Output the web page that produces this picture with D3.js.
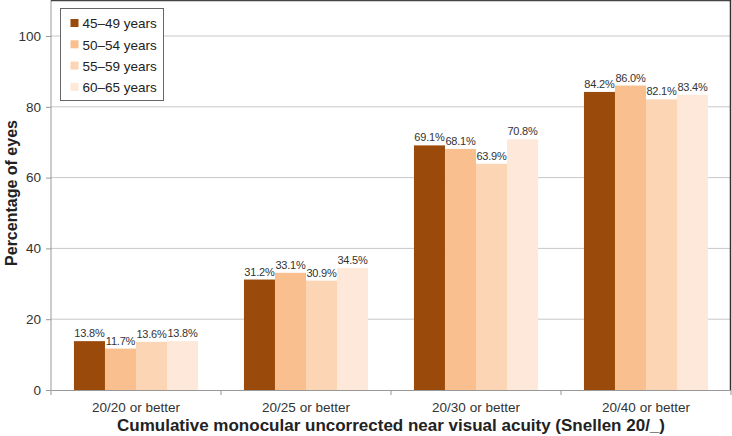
<!DOCTYPE html>
<html><head><meta charset="utf-8">
<script src="https://cdn.jsdelivr.net/npm/d3@7"></script>
<style>body{margin:0;background:#fff;}svg{display:block;font-family:Arial,"Liberation Sans",sans-serif;}</style>
</head><body><svg id="c" width="732" height="436"></svg>
<script>
const categories = ["20/20 or better","20/25 or better","20/30 or better","20/40 or better"];
const seriesNames = ["45–49 years","50–54 years","55–59 years","60–65 years"];
const s4549 = [13.8, 31.2, 69.1, 84.2];
const s5054 = [11.7, 33.1, 68.1, 86.0];
const s5559 = [13.6, 30.9, 63.9, 82.1];
const s6065 = [13.8, 34.5, 70.8, 83.4];
const yTicks = [0,20,40,60,80,100];
const colors = ["#9A4A0B","#F9BF8F","#FBD5B4","#FDE8D9"];
const series = [s4549, s5054, s5559, s6065];

const svg = d3.select("#c");
const L = 51, R = 731, T = 0, B = 390;
const x = d3.scaleBand().domain(categories).range([L, R]).paddingInner(0).paddingOuter(0);
const y = d3.scaleLinear().domain([0, 100]).range([B, 36]);
const xs = d3.scaleBand().domain(d3.range(4)).range([0, x.bandwidth()]).paddingInner(0).paddingOuter(0.74);

// gridlines
svg.append("g").selectAll("line").data(yTicks.filter(d=>d>0)).join("line")
  .attr("x1", L).attr("x2", R).attr("y1", d=>y(d)).attr("y2", d=>y(d))
  .attr("stroke", "#c8c8c8").attr("stroke-width", 1);

// bars
const g = svg.append("g").selectAll("g").data(categories).join("g")
  .attr("transform", d=>`translate(${x(d)},0)`);
g.each(function(cat, ci){
  const gg = d3.select(this);
  series.forEach((s, si) => {
    gg.append("rect").attr("x", xs(si)).attr("width", xs.bandwidth())
      .attr("y", y(s[ci])).attr("height", B - y(s[ci])).attr("fill", colors[si]);
    gg.append("text").attr("x", xs(si) + xs.bandwidth()/2).attr("y", y(s[ci]) - 4)
      .attr("text-anchor", "middle").attr("font-size", 11).attr("letter-spacing", -0.2).attr("fill", "#333")
      .text(s[ci].toFixed(1) + "%");
  });
});

// y axis
const ya = svg.append("g").attr("transform", `translate(${L},0)`)
  .call(d3.axisLeft(y).tickValues(yTicks).tickSize(5).tickPadding(5));
ya.select(".domain").attr("stroke", "#999").attr("d", `M0,${B}V${T}`);
ya.selectAll(".tick line").attr("stroke", "#999");
ya.selectAll("text").attr("font-size", 13.5).attr("fill", "#333").attr("font-family", "Arial,'Liberation Sans',sans-serif");

// x axis
const xa = svg.append("g").attr("transform", `translate(0,${B})`)
  .call(d3.axisBottom(x).tickSize(0).tickPadding(12));
xa.select(".domain").attr("stroke", "#999");
xa.selectAll("text").attr("font-size", 13.5).attr("fill", "#333").attr("font-family", "Arial,'Liberation Sans',sans-serif");
svg.append("g").selectAll("line").data([L, ...categories.map(c=>x(c)+x.bandwidth())]).join("line")
  .attr("x1", d=>d).attr("x2", d=>d).attr("y1", B).attr("y2", B+5).attr("stroke", "#999");

// frame top/right
svg.append("line").attr("x1", L).attr("x2", R).attr("y1", 0.5).attr("y2", 0.5).attr("stroke", "#444").attr("stroke-width", 1.5);
svg.append("line").attr("x1", R-0.5).attr("x2", R-0.5).attr("y1", 0).attr("y2", B).attr("stroke", "#333").attr("stroke-width", 1.5);

// titles
svg.append("text").attr("x", 391).attr("y", 431).attr("text-anchor", "middle")
  .attr("font-size", 17).attr("font-weight", "bold").attr("fill", "#222")
  .text("Cumulative monocular uncorrected near visual acuity (Snellen 20/_)");
svg.append("text").attr("transform", `translate(17,193) rotate(-90)`).attr("text-anchor", "middle")
  .attr("font-size", 16).attr("font-weight", "bold").attr("fill", "#222")
  .text("Percentage of eyes");

// legend
const lg = svg.append("g").attr("transform", "translate(60.5,8.5)");
lg.append("rect").attr("width", 103).attr("height", 92).attr("fill", "#fff").attr("stroke", "#666");
seriesNames.forEach((n, i) => {
  const yy = 15 + i * 21.3;
  lg.append("rect").attr("x", 10).attr("y", yy - 4.5).attr("width", 8).attr("height", 8).attr("fill", colors[i]);
  lg.append("text").attr("x", 22).attr("y", yy + 4.8).attr("font-size", 13.5).attr("fill", "#222").text(n);
});
</script></body></html>
